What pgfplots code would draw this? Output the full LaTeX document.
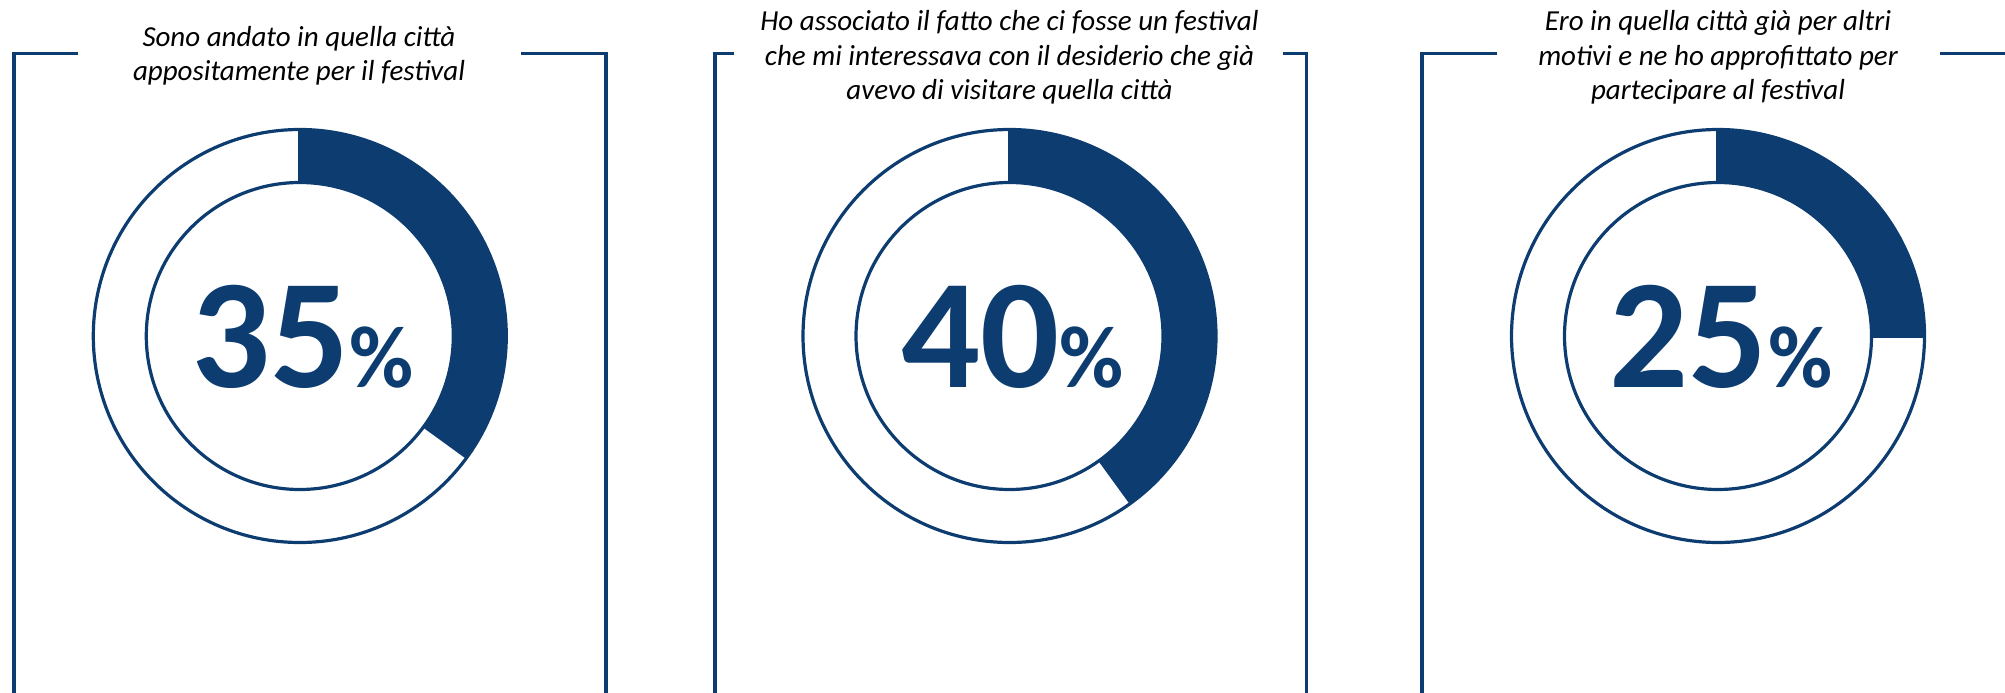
\documentclass[border=0pt]{standalone}
\usepackage{fontspec}
\setmainfont{Carlito}
\usepackage{pgfplots}
\pgfplotsset{compat=1.18}
\definecolor{navy}{HTML}{0C3C70}

% data: percentages
\def\pA{35}
\def\pB{40}
\def\pC{25}

\newcommand{\donut}[3]{% cx, cy, pct
  \fill[navy] ([shift={(90:103.25pt)}]axis cs:#1,#2)
     arc[start angle=90, end angle={90-3.6*#3}, radius=103.25pt]
     -- ([shift={({90-3.6*#3}:76.75pt)}]axis cs:#1,#2)
     arc[start angle={90-3.6*#3}, end angle=90, radius=76.75pt] -- cycle;
  \draw[navy, line width=1.6pt] (axis cs:#1,#2) circle[radius=103.25pt];
  \draw[navy, line width=1.6pt] (axis cs:#1,#2) circle[radius=76.75pt];
  \draw[navy, line width=1.6pt] ([shift={({90-3.6*#3}:76.75pt)}]axis cs:#1,#2) -- ([shift={({90-3.6*#3}:103.25pt)}]axis cs:#1,#2);
  \draw[navy, line width=1.6pt] ([shift={(90:76.75pt)}]axis cs:#1,#2) -- ([shift={(90:103.25pt)}]axis cs:#1,#2);
  \node[anchor=base, text=navy, inner sep=0pt] at (axis cs:#1+3,#2-51.5)
     {\fontsize{78}{78}\selectfont\bfseries #3{\fontsize{44}{44}\selectfont\%}};
}

\begin{document}
\begin{tikzpicture}
\begin{axis}[x=0.5pt, y=0.5pt, xmin=0, xmax=2005, ymin=0, ymax=692,
  hide axis, clip=true, scale only axis]
\addplot[draw=none] coordinates {(0,0) (2005,692)};

% frames
\draw[navy, line width=1.7pt] (axis cs:78,638.5) -- (axis cs:14,638.5) -- (axis cs:14,-20);
\draw[navy, line width=1.7pt] (axis cs:521,638.5) -- (axis cs:606,638.5) -- (axis cs:606,-20);
\draw[navy, line width=1.7pt] (axis cs:734,638.5) -- (axis cs:715,638.5) -- (axis cs:715,-20);
\draw[navy, line width=1.7pt] (axis cs:1283,638.5) -- (axis cs:1306.6,638.5) -- (axis cs:1306.6,-20);
\draw[navy, line width=1.7pt] (axis cs:1496.5,638.5) -- (axis cs:1422,638.5) -- (axis cs:1422,-20);
\draw[navy, line width=1.7pt] (axis cs:1940,638.5) -- (axis cs:2030,638.5) -- (axis cs:2030,-20);

% titles
\begin{scope}[every node/.style={anchor=base, inner sep=0pt, font=\fontsize{14.5}{17.5}\selectfont\itshape}]
\node at (axis cs:299,645.3) {Sono andato in quella città};
\node at (axis cs:299,611) {appositamente per il festival};
\node at (axis cs:1009.5,661.3) {Ho associato il fatto che ci fosse un festival};
\node at (axis cs:1009.5,626.3) {che mi interessava con il desiderio che già};
\node at (axis cs:1009.5,592) {avevo di visitare quella città};
\node at (axis cs:1718,661.3) {Ero in quella città già per altri};
\node at (axis cs:1718,626.3) {motivi e ne ho approfittato per};
\node at (axis cs:1718,592) {partecipare al festival};
\end{scope}

\donut{299.8}{356}{35}
\donut{1009.5}{356}{40}
\donut{1718}{356}{25}
\end{axis}
\pgfresetboundingbox
\path (0,0) rectangle (1002.5pt,346pt);
\end{tikzpicture}
\end{document}
